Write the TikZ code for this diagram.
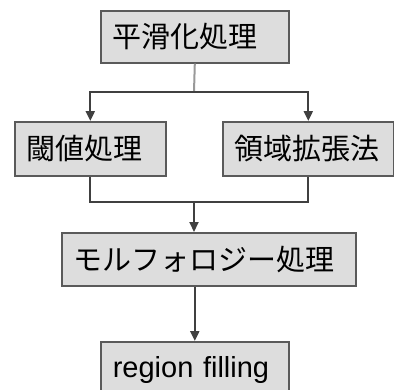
\documentclass[tikz,border=0pt]{standalone}
\usepackage{fontspec}
\newfontfamily\jp{Noto Sans CJK JP}
\setmainfont{Liberation Sans}
\usetikzlibrary{arrows.meta}
\definecolor{boxfill}{HTML}{DDDDDD}
\definecolor{boxline}{HTML}{5A5A5A}
\definecolor{lineclr}{HTML}{404040}
\tikzset{
  box/.style={draw=boxline, fill=boxfill, line width=1.6pt, rectangle, anchor=north west,
    inner xsep=12pt, inner ysep=0pt, align=left, font=\fontsize{29pt}{32pt}\selectfont},
  conn/.style={draw=lineclr, line width=2pt},
  arr/.style={conn, -{Triangle[width=9pt,length=10pt]}}
}
\begin{document}
\begin{tikzpicture}[x=1pt,y=-1pt]
\clip (0,0) rectangle (394,389);
\fill[white] (0,0) rectangle (394,389);
\node[box, text width=164pt, minimum height=52pt] (a) at (100,10) {\jp 平滑化処理};
\node[box, text width=127pt, minimum height=54pt] (b) at (14,121) {\jp 閾値処理};
\node[box, text width=147pt, minimum height=54pt] (c) at (222,121) {\jp 領域拡張法};
\node[box, text width=270pt, minimum height=53pt] (d) at (61,232) {\jp モルフォロジー処理};
\node[box, text width=164pt, minimum height=56pt] (e) at (100,341) {region filling};
\coordinate (j1) at (194,92);
\coordinate (j2) at (194,202);
\draw[conn, draw=gray!80] (a.south) -- (j1);
\draw[arr] (j1) -| (b.north);
\draw[arr] (j1) -| (c.north);
\draw[conn] (b.south) |- (j2) -| (c.south);
\draw[arr] (j2) -- (j2 |- d.north);
\draw[arr] (e.north |- d.south) -- (e.north);
\end{tikzpicture}
\end{document}
